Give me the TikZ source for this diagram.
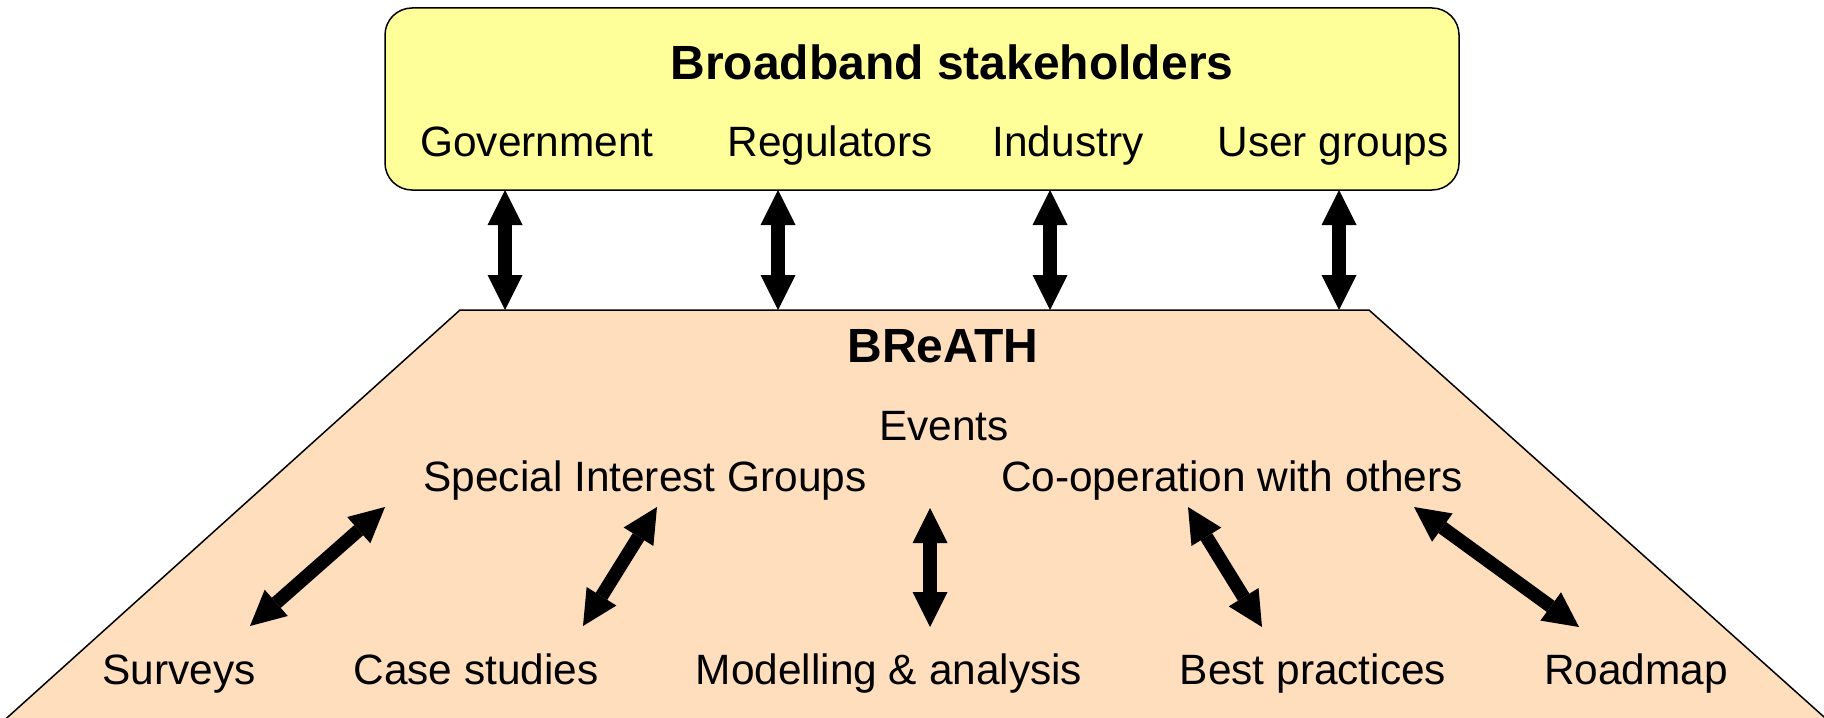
\documentclass[tikz,border=0pt]{standalone}
\usepackage{fontspec}
\setmainfont{Liberation Sans}
\usetikzlibrary{arrows.meta}
\definecolor{stakeyellow}{RGB}{255,255,153}
\definecolor{breathpeach}{RGB}{255,222,190}
\begin{document}
\begin{tikzpicture}[x=0.5pt,y=-0.5pt,
  lbl/.style={anchor=base, inner sep=0pt, font=\fontsize{21.2pt}{25pt}\selectfont},
  ttl/.style={anchor=base, inner sep=0pt, font=\fontsize{24pt}{28pt}\selectfont\bfseries},
  tipshape/.style={},
  biarrow/.style={line width=6.75pt, {Triangle[length=17.5pt,width=17.5pt,line width=0pt]}-{Triangle[length=17.5pt,width=17.5pt,line width=0pt]}},
  panel/.style={draw=black, line width=0.75pt}]
\useasboundingbox (0,0) rectangle (1824,717);
\fill[white] (0,0) rectangle (1824,717);
% BReATH trapezoid
\coordinate (tl) at (460,310);
\coordinate (tr) at (1369,310);
\coordinate (br) at (1833,725);
\coordinate (bl) at (-1,725);
\draw[panel, fill=breathpeach] (tl) -- (tr) -- (br) -- (bl) -- cycle;
% stakeholder box
\node[panel, fill=stakeyellow, rounded corners=13.5pt, minimum width=537pt, minimum height=91pt, inner sep=0pt] (stake) at (922,99) {};
\node[ttl] (title) at (952,80) {Broadband stakeholders};
\node[lbl] (gov) at (537,156) {Government};
\node[lbl] (reg) at (830,156) {Regulators};
\node[lbl] (ind) at (1068,156) {Industry};
\node[lbl] (usr) at (1333,156) {User groups};
% BReATH texts
\node[ttl] (breath) at (943,362) {BReATH};
\node[lbl] (events) at (944,440) {Events};
\node[lbl] (sig) at (645,491) {Special Interest Groups};
\node[lbl] (coop) at (1232,491) {Co-operation with others};
\node[lbl] (surveys) at (179,684) {Surveys};
\node[lbl] (cases) at (476,684) {Case studies};
\node[lbl] (model) at (889,684) {Modelling \& analysis};
\node[lbl] (best) at (1313,684) {Best practices};
\node[lbl] (road) at (1636,684) {Roadmap};
% arrow end points
\coordinate (g1) at (505,190); \coordinate (g2) at (505,310);
\coordinate (r1) at (778,190); \coordinate (r2) at (778,310);
\coordinate (i1) at (1050,190); \coordinate (i2) at (1050,310);
\coordinate (u1) at (1339,190); \coordinate (u2) at (1339,310);
\coordinate (s1) at (385,507); \coordinate (s2) at (250,626);
\coordinate (c1) at (657,507); \coordinate (c2) at (583,626);
\coordinate (m1) at (930,508); \coordinate (m2) at (930,627);
\coordinate (b1) at (1188,507); \coordinate (b2) at (1262,627);
\coordinate (d1) at (1414,507); \coordinate (d2) at (1579,627);
\draw[biarrow] (g1) -- (g2);
\draw[biarrow] (r1) -- (r2);
\draw[biarrow] (i1) -- (i2);
\draw[biarrow] (u1) -- (u2);
\draw[biarrow] (s1) -- (s2);
\draw[biarrow] (c1) -- (c2);
\draw[biarrow] (m1) -- (m2);
\draw[biarrow] (b1) -- (b2);
\draw[biarrow] (d1) -- (d2);
\end{tikzpicture}
\end{document}
